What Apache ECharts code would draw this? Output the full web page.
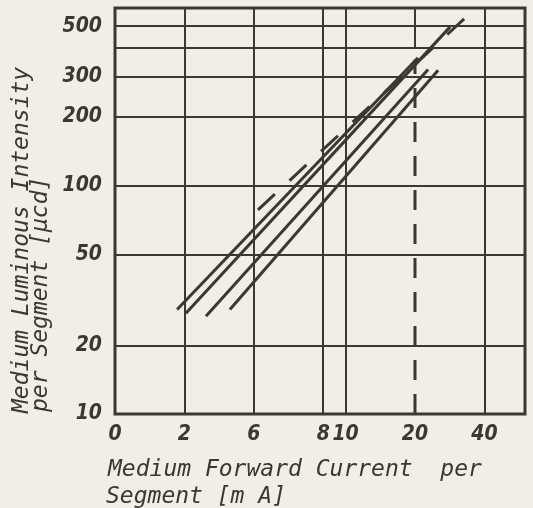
<!DOCTYPE html>
<html>
<head>
<meta charset="utf-8">
<script src="https://cdn.jsdelivr.net/npm/echarts@6/dist/echarts.min.js"></script>
<style>
  html, body { margin: 0; padding: 0; background: #f2eee5; }
  #chart { width: 533px; height: 508px; }
</style>
</head>
<body>
<div id="chart"></div>
<script>
// Forward current axis [mA]: tick values and the labels printed under them
const xTickValues = [1, 2, 4, 8, 10, 20, 40];
const xTickLabels = ['0', '2', '6', '8', '10', '20', '40'];
const xGridValues = [2, 4, 8, 10, 40];

// Luminous intensity axis [µcd]
const yTickValues = [10, 20, 50, 100, 200, 300, 500];
const yTickLabels = ['10', '20', '50', '100', '200', '300', '500'];
const yGridValues = [20, 50, 100, 200, 300, 400, 500];

// Characteristic lines, [current mA, intensity µcd] at both ends
const curve1 = [[1.86, 28.7], [20.6, 363]];
const curve2 = [[2.03, 27.6], [28.4, 496]];
const curve3 = [[2.48, 26.8], [22.8, 323]];
const curve4 = [[3.15, 28.7], [25.2, 320]];
const curveDashed = [[4.17, 78.4], [33.6, 552]];

// 20 mA reference: solid grid part at the top, dashed marker below
const refUpper = [[20, 400], [20, 600]];
const refLower = [[20, 10], [20, 356]];

const INK = '#3b3733';
const tickFont = "'Liberation Sans Narrow', 'DejaVu Sans Condensed', 'Liberation Sans', sans-serif";
const titleFont = "italic 23px 'DejaVu Sans Mono', monospace";

function lookup(values, labels, v) {
  for (let i = 0; i < values.length; i++) {
    if (Math.abs(values[i] - v) / values[i] < 1e-6) return labels[i];
  }
  return '';
}

function solid(data) {
  return {
    type: 'line', data: data, symbol: 'none', silent: true,
    lineStyle: { color: INK, width: 3 }
  };
}

const tickLabelStyle = {
  color: INK, fontSize: 21, fontStyle: 'italic', fontWeight: 'bold', fontFamily: tickFont
};

const chart = echarts.init(document.getElementById('chart'), null, { renderer: 'canvas' });
chart.setOption({
  backgroundColor: '#f2eee5',
  animation: false,
  grid: {
    left: 115, top: 8, right: 8, bottom: 94,
    show: true, borderColor: INK, borderWidth: 3, backgroundColor: 'transparent'
  },
  xAxis: {
    type: 'log', logBase: 10, min: 1, max: 60,
    axisLine: { show: false },
    axisTick: { show: false, customValues: xGridValues },
    splitLine: { show: true, lineStyle: { color: INK, width: 2 } },
    axisLabel: Object.assign({
      customValues: xTickValues,
      formatter: v => lookup(xTickValues, xTickLabels, v),
      margin: 10
    }, tickLabelStyle)
  },
  yAxis: {
    type: 'log', logBase: 10, min: 10, max: 600,
    axisLine: { show: false },
    axisTick: { show: false, customValues: yGridValues },
    splitLine: { show: true, lineStyle: { color: INK, width: 2 } },
    axisLabel: Object.assign({
      customValues: yTickValues,
      formatter: v => lookup(yTickValues, yTickLabels, v),
      margin: 13
    }, tickLabelStyle)
  },
  series: [
    solid(curve1),
    solid(curve2),
    solid(curve3),
    solid(curve4),
    {
      type: 'line', data: curveDashed, symbol: 'none', silent: true,
      lineStyle: { color: INK, width: 3, type: [23, 20] }
    },
    {
      type: 'line', data: refUpper, symbol: 'none', silent: true,
      lineStyle: { color: INK, width: 2 }
    },
    {
      type: 'line', data: refLower, symbol: 'none', silent: true,
      lineStyle: { color: INK, width: 3, type: [20, 14] }
    }
  ],
  graphic: [
    {
      type: 'text', x: 22, y: 413, rotation: Math.PI / 2,
      style: { text: 'Medium Luminous Intensity', font: titleFont, fill: INK,
               textAlign: 'left', textVerticalAlign: 'middle' }
    },
    {
      type: 'text', x: 41, y: 412, rotation: Math.PI / 2,
      style: { text: 'per Segment [µcd]', font: titleFont, fill: INK,
               textAlign: 'left', textVerticalAlign: 'middle' }
    },
    {
      type: 'text', x: 108, y: 470,
      style: { text: 'Medium Forward Current  per', font: titleFont, fill: INK,
               textAlign: 'left', textVerticalAlign: 'middle' }
    },
    {
      type: 'text', x: 106, y: 497,
      style: { text: 'Segment [m A]', font: titleFont, fill: INK,
               textAlign: 'left', textVerticalAlign: 'middle' }
    }
  ]
});
</script>
</body>
</html>
